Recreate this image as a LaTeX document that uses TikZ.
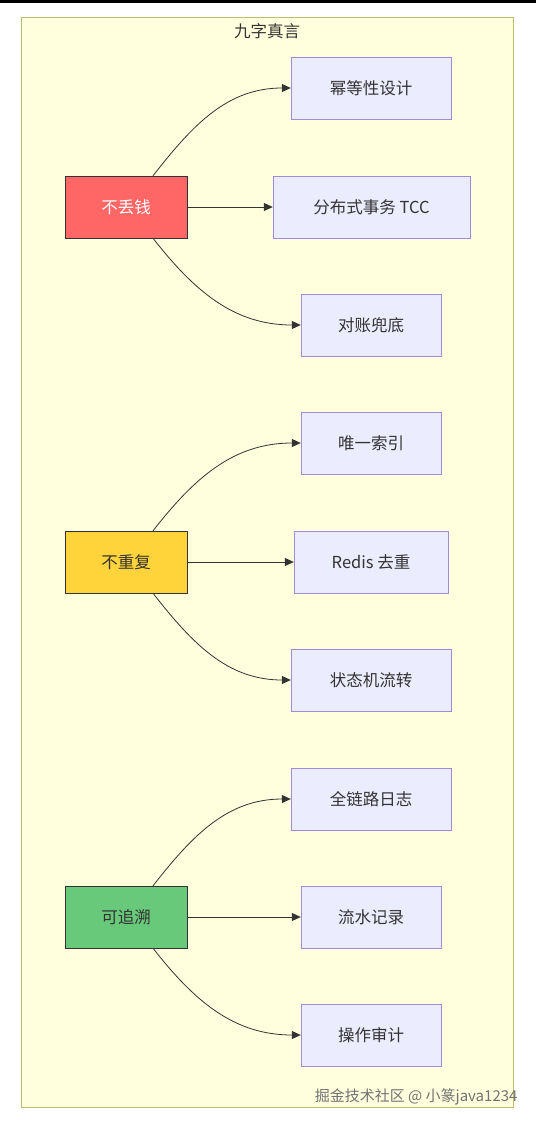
\documentclass[tikz,border=0pt]{standalone}
\usepackage{fontspec}
\setmainfont{Noto Sans CJK SC}
\usetikzlibrary{arrows.meta}
\definecolor{framefill}{HTML}{FFFFDE}
\definecolor{frameline}{HTML}{BDBD70}
\definecolor{leaffill}{HTML}{ECECFF}
\definecolor{leafline}{HTML}{9F8BDB}
\definecolor{redfill}{HTML}{FF6666}
\definecolor{yellowfill}{HTML}{FFD43B}
\definecolor{greenfill}{HTML}{69C97A}
\definecolor{inkgray}{HTML}{333333}
\begin{document}
\begin{tikzpicture}[
    x=1pt, y=-1pt,
    every node/.style={font=\fontsize{16.5}{18}\selectfont, text=inkgray},
    % Cadre extérieur
    frame/.style={draw=frameline, fill=framefill, inner sep=0pt},
    % Nœuds de gauche et de droite
    root/.style={draw=inkgray, minimum width=122pt, minimum height=62pt, inner sep=0pt},
    leaf/.style={draw=leafline, fill=leaffill, minimum height=62pt, inner sep=0pt},
    link/.style={draw=inkgray, thick, -{Triangle[length=9pt,width=8pt]}}
]
\useasboundingbox (0,0) rectangle (536,1122);
\fill[black] (0,0) rectangle (536,2.5);
% Cadre
\node[frame, minimum width=492pt, minimum height=1090pt] (box) at (267,562) {};
\node (title) at (267,31) {九字真言};
% Racines
\node[root, fill=redfill, text=white] (money) at (126,207) {不丢钱};
\node[root, fill=yellowfill] (dup) at (126,562) {不重复};
\node[root, fill=greenfill] (trace) at (126,917) {可追溯};
% Feuilles
\node[leaf, minimum width=160pt] (idem) at (371,88) {幂等性设计};
\node[leaf, minimum width=197pt] (tcc) at (371.5,207) {分布式事务 TCC};
\node[leaf, minimum width=140pt] (recon) at (371,325) {对账兜底};
\node[leaf, minimum width=140pt] (uniq) at (371,443) {唯一索引};
\node[leaf, minimum width=154pt] (redis) at (371,562) {Redis 去重};
\node[leaf, minimum width=160pt] (state) at (371,680) {状态机流转};
\node[leaf, minimum width=160pt] (logs) at (371,799) {全链路日志};
\node[leaf, minimum width=140pt] (flow) at (371,917) {流水记录};
\node[leaf, minimum width=140pt] (audit) at (371,1035) {操作审计};
% Liens
\draw[link] ([xshift=27pt]money.north) to[out=52,in=180] (idem.west);
\draw[link] (money.east) -- (tcc.west);
\draw[link] ([xshift=27pt]money.south) to[out=-52,in=180] (recon.west);
\draw[link] ([xshift=27pt]dup.north) to[out=52,in=180] (uniq.west);
\draw[link] (dup.east) -- (redis.west);
\draw[link] ([xshift=27pt]dup.south) to[out=-52,in=180] (state.west);
\draw[link] ([xshift=27pt]trace.north) to[out=52,in=180] (logs.west);
\draw[link] (trace.east) -- (flow.west);
\draw[link] ([xshift=27pt]trace.south) to[out=-52,in=180] (audit.west);
% Filigrane
\node[anchor=east, text=gray!90!black, font=\fontsize{15}{17}\selectfont] (mark) at (521,1097) {掘金技术社区 @ 小篆java1234};
\end{tikzpicture}
\end{document}
